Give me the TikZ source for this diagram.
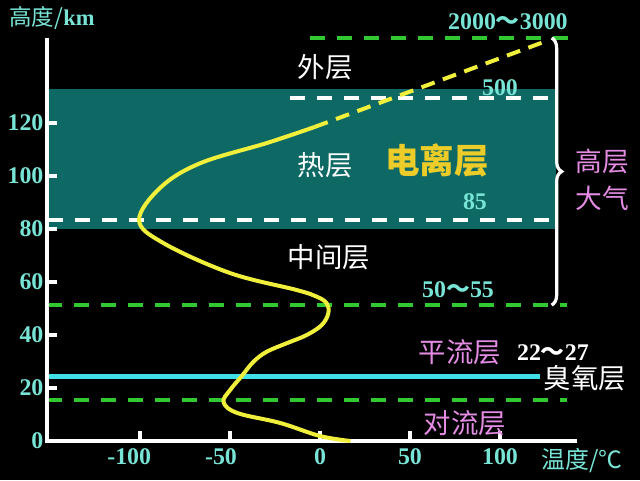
\documentclass[tikz,border=0pt]{standalone}
\usepackage{fontspec}
\setmainfont{Liberation Serif}
\newfontfamily\cjk{Noto Sans CJK SC}
\usetikzlibrary{decorations.pathreplacing}
\definecolor{numcyan}{RGB}{120,228,214}
\definecolor{ozone}{RGB}{64,224,232}
\definecolor{layergreen}{RGB}{50,200,50}
\definecolor{ionteal}{RGB}{14,104,100}
\definecolor{curveyellow}{RGB}{240,240,60}
\definecolor{iongold}{RGB}{236,204,40}
\definecolor{layerpink}{RGB}{228,140,228}
\begin{document}
\begin{tikzpicture}[x=0.045cm, y=0.06625cm,
  axis/.style={draw=white, line width=0.1cm},
  tick/.style={draw=white, line width=0.09cm},
  greendash/.style={draw=layergreen, line width=0.1cm, dash pattern=on 0.375cm off 0.3cm},
  whitedash/.style={draw=white, line width=0.1cm, dash pattern=on 0.375cm off 0.3cm},
  curve/.style={draw=curveyellow, line width=0.1cm},
  numlab/.style={text=numcyan, inner sep=0pt, font=\fontsize{17}{20}\selectfont\bfseries},
  layer/.style={text=white, inner sep=0pt, font=\cjk\fontsize{19.5}{24}\selectfont},
  pinklayer/.style={layer, text=layerpink}]
% background and margins
\fill[black] (-177.78,-14.72) rectangle (177.78,166.42);
\useasboundingbox (-177.78,-14.72) rectangle (177.78,166.42);
% ionosphere
\fill[ionteal] (-151.1,80) rectangle (131.1,132.8);
% layer boundaries
\draw[greendash] (-5.6,152.1) -- (142.8,152.1);
\draw[whitedash] (-16.7,129.4) -- (131.1,129.4);
\draw[whitedash] (-151.1,83.4) -- (131.1,83.4);
\draw[greendash] (-151.7,51.3) -- (137.2,51.3);
\draw[greendash] (-151.7,15.5) -- (137.2,15.5);
\draw[ozone, line width=0.125cm] (-151.7,24.5) -- (122.2,24.5);
% axes
\coordinate (ytop) at (-151.7,152.1);
\coordinate (xend) at (142.8,0);
\draw[axis] (ytop) |- (xend);
\foreach \h in {20,40,...,120}
  \draw[tick] (-151.7,\h) -- (-146.1,\h);
\foreach \h in {0,20,...,120}
  \node[numlab, anchor=east] (y\h) at (-153.5,\h) {\h};
\foreach \t/\lab/\dx in {-100/-100/-6, -50/-50/-5, 0/0/0, 50/50/0, 100/100/0} {
  \draw[tick] (\t,0) -- (\t,3.8);
  \node[numlab] (x\lab) at (\t+\dx,-6) {\lab};
}
\node[numlab, font=\cjk\fontsize{16}{20}\selectfont] (ylab) at (-148.9,159.6) {高度/{\rmfamily\bfseries km}};
\node[numlab, font=\cjk\fontsize{17}{20}\selectfont] (xlab) at (145.6,-7.2) {温度/℃};
% temperature curve
\draw[curve] plot[smooth, tension=0.6] coordinates {(17,0) (0,1.9) (-22,6.8) (-46,10.6) (-53.6,14.7) (-50,19.2) (-43.5,24.5) (-37,29.9) (-29.6,33.7) (-18.5,36.9) (-7.4,40) (1,43.8) (4.6,48.2) (3.7,52) (-1.9,54.5) (-13,57) (-50,63.4) (-87,74.7) (-100.5,83.4) (-88.4,95.8) (-66.3,104.9) (-29.3,112.5) (-3,118.5)};
\draw[curve, dash pattern=on 0.35cm off 0.22cm] (-3,118.5) -- (127.2,151.3);
% upper atmosphere brace
\draw[white, line width=0.08cm, decorate, decoration={brace, amplitude=0.25cm}] (128.7,152.1) -- (128.7,51.3);
% labels
\node[numlab] (top) at (104.4,158.1) {2000{\cjk ～}3000};
\node[numlab] (n500) at (100,133.2) {500};
\node[numlab] (n85) at (86.1,90.2) {85};
\node[numlab] (n50) at (76.7,57) {50{\cjk ～}55};
\node[numlab, text=white] (n22) at (129.4,33.2) {22{\cjk ～}27};
\node[layer] (exo) at (2.8,141.1) {外层};
\node[layer] (thermo) at (2.8,104.2) {热层};
\node[layer, text=iongold, font=\cjk\bfseries\fontsize{24.5}{28}\selectfont] (iono) at (65,106) {电离层};
\node[layer] (meso) at (5,69.4) {中间层};
\node[pinklayer, align=center, font=\cjk\fontsize{19}{26}\selectfont] (upper) at (156.7,98.5) {高层\\大气};
\node[pinklayer] (strato) at (77.8,33.6) {平流层};
\node[layer] (ozonel) at (147.2,23.6) {臭氧层};
\node[pinklayer] (tropo) at (80.6,6.8) {对流层};
\end{tikzpicture}
\end{document}
